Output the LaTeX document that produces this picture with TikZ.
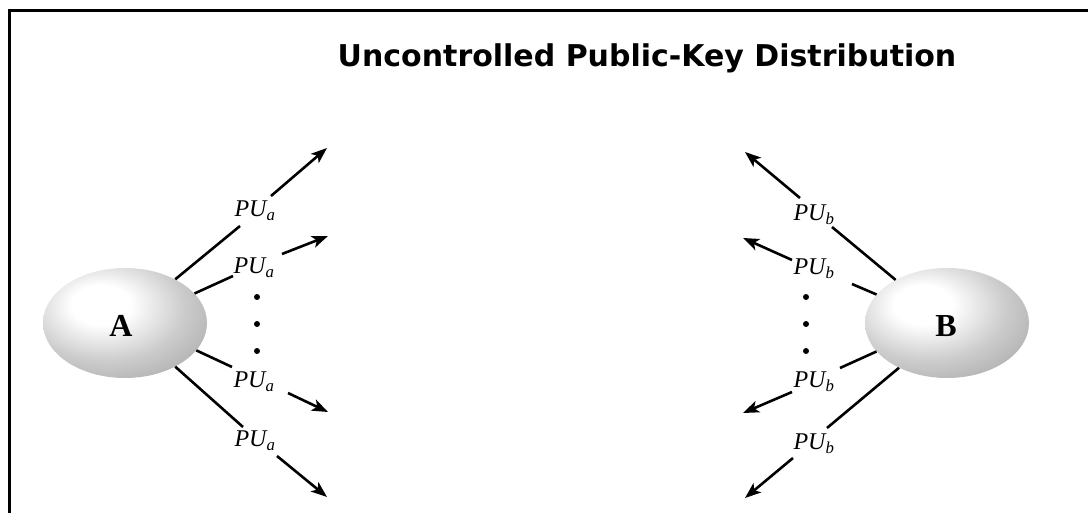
\documentclass[tikz,border=0pt]{standalone}
\usepackage{fontspec}
\setmainfont{Liberation Serif}
\newfontfamily\titlefont{DejaVu Sans}
\usetikzlibrary{arrows.meta,shapes.geometric}
\pgfdeclareradialshading{ballshade}{\pgfpoint{-8bp}{9bp}}{color(0bp)=(white); color(9bp)=(white); color(24bp)=(black!20); color(42bp)=(black!37); color(58bp)=(black!47); color(100bp)=(black!50)}
\begin{document}
\begin{tikzpicture}[x=1pt,y=-1pt,
  ball/.style={ellipse, minimum width=164pt, minimum height=110pt, inner sep=0pt, shade, shading=ballshade, font=\fontsize{32}{34}\selectfont\bfseries},
  key/.style={inner sep=1pt, font=\fontsize{24}{26}\selectfont\itshape},
  ray/.style={line width=2.6pt},
  arr/.style={line width=2.6pt, -{Stealth[length=16pt,width=12pt,inset=4pt]}},
  bdot/.style={circle, fill=black, inner sep=0pt, minimum size=6pt},
  framerule/.style={line width=3pt}]
\useasboundingbox (0,0) rectangle (1088,513);
% frame
\coordinate (fTR) at (1088,11);
\coordinate (fTL) at (9,11);
\coordinate (fBL) at (9,513);
\draw[framerule] (fTR) -- (fTL) -- (fBL);
% title
\node[font=\titlefont\bfseries\fontsize{30}{36}\selectfont, anchor=base, inner sep=0pt] (title) at (647,67) {Uncontrolled Public-Key Distribution};
% balls
\node[ball] (A) at (125,323) {};
\node[ball] (B) at (947,323) {};
\node[font=\fontsize{32}{34}\selectfont\bfseries, inner sep=0pt] (Alab) at (121,326) {A};
\node[font=\fontsize{32}{34}\selectfont\bfseries, inner sep=0pt] (Blab) at (946,326) {B};
% A labels
\node[key] (ka1) at (255,211) {PU\textsubscript{a}};
\node[key] (ka2) at (254,268) {PU\textsubscript{a}};
\node[key] (ka3) at (254,382) {PU\textsubscript{a}};
\node[key] (ka4) at (255,441) {PU\textsubscript{a}};
% B labels
\node[key] (kb1) at (814,215) {PU\textsubscript{b}};
\node[key] (kb2) at (814,269) {PU\textsubscript{b}};
\node[key] (kb3) at (814,382) {PU\textsubscript{b}};
\node[key] (kb4) at (814,444) {PU\textsubscript{b}};
% dots
\node[bdot] (da1) at (257,297) {};
\node[bdot] (da2) at (257,324) {};
\node[bdot] (da3) at (257,351) {};
\node[bdot] (db1) at (806,297) {};
\node[bdot] (db2) at (806,324) {};
\node[bdot] (db3) at (806,351) {};
% A arrows
\coordinate (a1m) at (240,226); \coordinate (a1n) at (271,196); \coordinate (a1t) at (327,148);
\coordinate (a2m) at (233,276); \coordinate (a2n) at (282,254); \coordinate (a2t) at (328,236);
\coordinate (a3m) at (232,367); \coordinate (a3n) at (288,393); \coordinate (a3t) at (328,412);
\coordinate (a4m) at (243,427); \coordinate (a4n) at (277,456); \coordinate (a4t) at (327,497);
\draw[ray] (A.41) -- (a1m); \draw[arr] (a1n) -- (a1t);
\draw[ray] (A.23) -- (a2m); \draw[arr] (a2n) -- (a2t);
\draw[ray] (A.-21) -- (a3m); \draw[arr] (a3n) -- (a3t);
\draw[ray] (A.-41) -- (a4m); \draw[arr] (a4n) -- (a4t);
% B arrows
\coordinate (b1m) at (832,227); \coordinate (b1n) at (800,198); \coordinate (b1t) at (745,152);
\coordinate (b2m) at (852,284); \coordinate (b2n) at (792,260); \coordinate (b2t) at (743,238);
\coordinate (b3m) at (840,368); \coordinate (b3n) at (792,392); \coordinate (b3t) at (743,413);
\coordinate (b4m) at (827,428); \coordinate (b4n) at (793,458); \coordinate (b4t) at (745,498);
\draw[ray] (B.140) -- (b1m); \draw[arr] (b1n) -- (b1t);
\draw[ray] (B.158) -- (b2m); \draw[arr] (b2n) -- (b2t);
\draw[ray] (B.202) -- (b3m); \draw[arr] (b3n) -- (b3t);
\draw[ray] (B.223) -- (b4m); \draw[arr] (b4n) -- (b4t);
\end{tikzpicture}
\end{document}
